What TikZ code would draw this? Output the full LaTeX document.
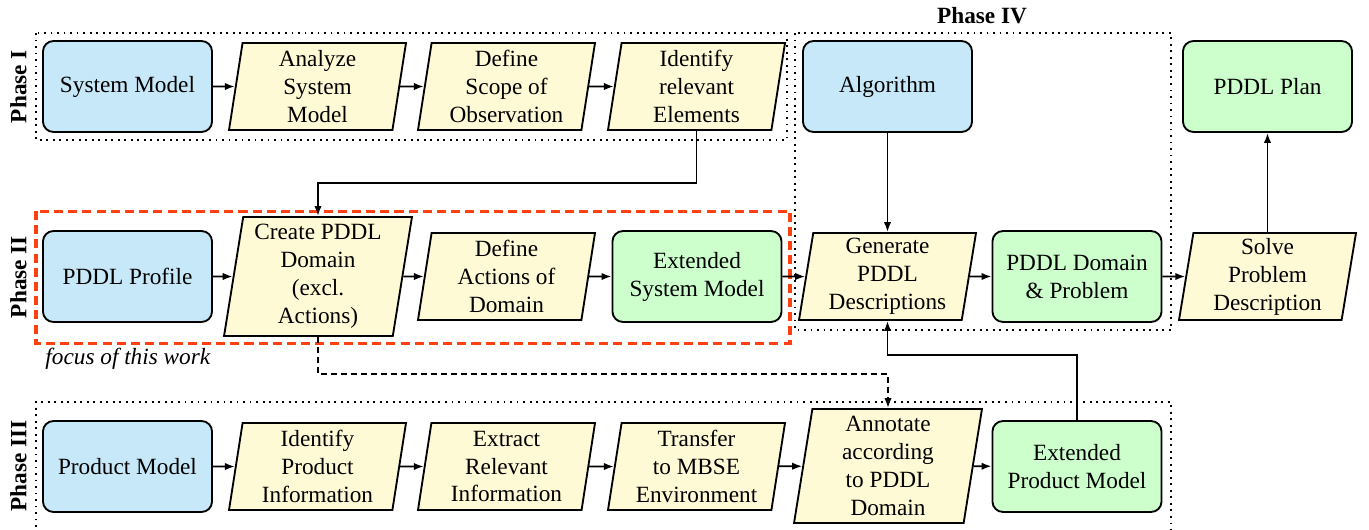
\documentclass[tikz,border=0pt]{standalone}
\usepackage{fontspec}
\setmainfont{Liberation Serif}
\usetikzlibrary{shapes.geometric,arrows.meta}
\definecolor{cblue}{RGB}{199,232,248}
\definecolor{cyel}{RGB}{255,250,214}
\definecolor{cgreen}{RGB}{204,255,204}
\definecolor{cred}{RGB}{255,64,16}
\begin{document}
\begin{tikzpicture}[x=0.43pt,y=-0.43pt,
  rbox/.style={draw, line width=0.8pt, rounded corners=4.5pt, minimum width=72.7pt, minimum height=39.1pt, align=center, inner sep=2pt},
  bluebox/.style={rbox, fill=cblue},
  greenbox/.style={rbox, fill=cgreen},
  pbox/.style={draw, line width=0.8pt, trapezium, trapezium left angle=80, trapezium right angle=100, trapezium stretches body, minimum width=76.1pt, minimum height=37.4pt, align=center, inner sep=1pt, fill=cyel},
  tallbox/.style={pbox, minimum width=80.8pt, minimum height=50pt},
  arr/.style={line width=0.8pt, -{Latex[length=4.3pt,width=3.2pt]}},
  dasharr/.style={arr, dash pattern=on 2.6pt off 1.7pt},
  phasebox/.style={line width=0.8pt, dash pattern=on 0.8pt off 2pt},
  focusbox/.style={cred, line width=1.3pt, dash pattern=on 3.9pt off 2.2pt},
  phaselabel/.style={font=\bfseries, inner sep=0pt}
]
\useasboundingbox (0,0) rectangle (1369,529);

% phase frames
\draw[phasebox] (36,33) rectangle (787,140);
\draw[phasebox] (795,33) rectangle (1171,330);
\draw[phasebox] (36,540) -- (36,402) -- (1171,402) -- (1171,540);
\draw[focusbox] (36,211) rectangle (790,343);

% labels
\node[phaselabel, rotate=90] (l1) at (18.5,86.5) {Phase I};
\node[phaselabel, rotate=90] (l2) at (18.5,277) {Phase II};
\node[phaselabel, rotate=90] (l3) at (18.5,466) {Phase III};
\node[phaselabel] (l4) at (982,16) {Phase IV};
\node[font=\itshape, anchor=west, inner sep=0pt] (focus) at (45,359) {focus of this work};

% row 1
\node[bluebox] (sm) at (127.5,86.5) {System Model};
\node[pbox] (an) at (317.5,86.5) {Analyze\\System\\Model};
\node[pbox] (ds) at (506.5,86.5) {Define\\Scope of\\Observation};
\node[pbox] (ir) at (696.5,86.5) {Identify\\relevant\\Elements};
\node[bluebox] (alg) at (887.5,86.5) {Algorithm};
\node[greenbox] (plan) at (1267.5,86.5) {PDDL Plan};

% row 2
\node[bluebox] (pp) at (127.5,276.5) {PDDL Profile};
\node[tallbox, minimum height=51.2pt] (cd) at (318,276.5) {Create PDDL\\Domain\\(excl.\\Actions)};
\node[pbox] (da) at (506.5,276.5) {Define\\Actions of\\Domain};
\node[greenbox] (esm) at (697,276.5) {Extended\\System Model};
\node[pbox] (gen) at (887.5,276.5) {Generate\\PDDL\\Descriptions};
\node[greenbox] (dp) at (1077,276.5) {PDDL Domain\\\& Problem};
\node[pbox] (solve) at (1267.5,276.5) {Solve\\Problem\\Description};

% row 3
\node[bluebox] (pm) at (127.5,466.5) {Product Model};
\node[pbox] (ip) at (317.5,466.5) {Identify\\Product\\Information};
\node[pbox] (ex) at (506.5,466.5) {Extract\\Relevant\\Information};
\node[pbox] (tr) at (696.5,466.5) {Transfer\\to MBSE\\Environment};
\node[tallbox, minimum height=49pt] (ann) at (888,466) {Annotate\\according\\to PDDL\\Domain};
\node[greenbox] (epm) at (1077,466.5) {Extended\\Product Model};

% horizontal arrows
\draw[arr] (sm) -- (an);
\draw[arr] (an) -- (ds);
\draw[arr] (ds) -- (ir);
\draw[arr] (pp) -- (cd);
\draw[arr] (cd) -- (da);
\draw[arr] (da) -- (esm);
\draw[arr] (esm) -- (gen);
\draw[arr] (gen) -- (dp);
\draw[arr] (dp) -- (solve);
\draw[arr] (pm) -- (ip);
\draw[arr] (ip) -- (ex);
\draw[arr] (ex) -- (tr);
\draw[arr] (tr) -- (ann);
\draw[arr] (ann) -- (epm);

% other connectors
\coordinate (k1) at (696.5,183);
\draw[arr] (ir.center |- ir.south) -- (k1) -| (cd.center |- cd.north);
\draw[arr] (alg.south) -- (gen.center |- gen.north);
\coordinate (k2) at (600,374);
\draw[dasharr] (cd.center |- cd.south) |- (k2) -| (ann.center |- ann.north);
\coordinate (k3) at (1000,355);
\draw[arr] (epm.north) |- (k3) -| (gen.center |- gen.south);
\draw[arr] (solve.center |- solve.north) -- (plan.south);
\end{tikzpicture}
\end{document}
